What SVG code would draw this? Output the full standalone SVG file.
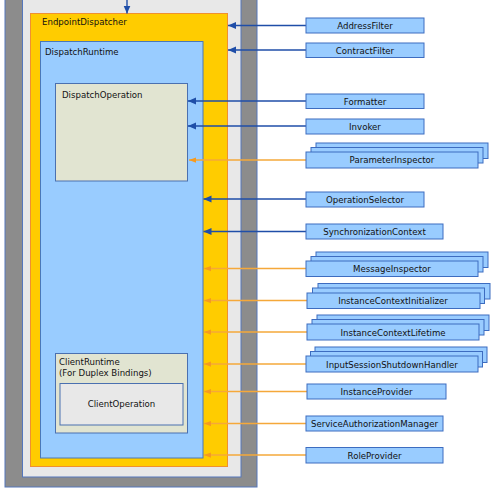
<svg xmlns="http://www.w3.org/2000/svg" width="502" height="495" viewBox="0 0 502 495">
<defs>
<style>
text{font-family:"DejaVu Sans","Liberation Sans",sans-serif;font-size:8.6px;fill:#111111}
.c{text-anchor:middle}
.box{fill:#99ccff;stroke:#3d6cc0;stroke-width:1}
.bl{stroke:#1f4ea8;stroke-width:1.4;fill:none}
.or{stroke:#f5a83a;stroke-width:1.4;fill:none}
</style>
<marker id="ab" viewBox="0 0 8 8" refX="8" refY="4" markerWidth="8" markerHeight="8" markerUnits="userSpaceOnUse" orient="auto"><path d="M0,0.5 L8,4 L0,7.5 Z" fill="#1f4ea8"/></marker>
<marker id="ao" viewBox="0 0 8 8" refX="8" refY="4" markerWidth="7" markerHeight="7" markerUnits="userSpaceOnUse" orient="auto"><path d="M0,1 L8,4 L0,7 Z" fill="#f59a20"/></marker>
</defs>
<rect width="502" height="495" fill="#ffffff"/>
<g id="host">
<rect x="5" y="-2" width="252" height="489" fill="#8c8c8c" stroke="#5577bb" stroke-width="1"/>
<rect x="22.5" y="-2" width="218.5" height="479" fill="#e8e8e8" stroke="#5577bb" stroke-width="1"/>
</g>
<g id="EndpointDispatcher">
<rect x="30.5" y="13.5" width="197" height="453" fill="#ffcc00" stroke="#f09030" stroke-width="1"/>
<text x="42" y="25">EndpointDispatcher</text>
</g>
<g id="DispatchRuntime">
<rect x="40.5" y="41.5" width="162.5" height="416.5" fill="#99ccff" stroke="#4a78b8" stroke-width="1"/>
<text x="45" y="55">DispatchRuntime</text>
</g>
<g id="DispatchOperation">
<rect x="55.5" y="83.5" width="132" height="97.5" fill="#e1e4d1" stroke="#4a70b0" stroke-width="1"/>
<text x="62" y="98">DispatchOperation</text>
</g>
<g id="ClientRuntime">
<rect x="55.5" y="353.5" width="132" height="79.5" fill="#e1e4d1" stroke="#4a70b0" stroke-width="1"/>
<text x="59" y="365">ClientRuntime</text>
<text x="59" y="376">(For Duplex Bindings)</text>
</g>
<g id="ClientOperation">
<rect x="60" y="383.5" width="123" height="41.5" fill="#e8e8e8" stroke="#4a70b0" stroke-width="1"/>
<text class="c" x="121.5" y="407">ClientOperation</text>
</g>
<g id="connectors">
<line class="bl" x1="127" y1="0" x2="127" y2="13.5" marker-end="url(#ab)"/>
<line class="bl" x1="306" y1="25.5" x2="228" y2="25.5" marker-end="url(#ab)"/>
<line class="bl" x1="306" y1="50" x2="228" y2="50" marker-end="url(#ab)"/>
<line class="bl" x1="306" y1="101" x2="188" y2="101" marker-end="url(#ab)"/>
<line class="bl" x1="306" y1="126" x2="188" y2="126" marker-end="url(#ab)"/>
<line class="or" x1="306" y1="160" x2="189" y2="160" marker-end="url(#ao)"/>
<line class="bl" x1="306" y1="199" x2="203.5" y2="199" marker-end="url(#ab)"/>
<line class="bl" x1="306" y1="231.5" x2="203.5" y2="231.5" marker-end="url(#ab)"/>
<line class="or" x1="306" y1="268.5" x2="204" y2="268.5" marker-end="url(#ao)"/>
<line class="or" x1="307" y1="300.5" x2="204" y2="300.5" marker-end="url(#ao)"/>
<line class="or" x1="307" y1="332" x2="204" y2="332" marker-end="url(#ao)"/>
<line class="or" x1="306" y1="364" x2="204" y2="364" marker-end="url(#ao)"/>
<line class="or" x1="307" y1="391.5" x2="204" y2="391.5" marker-end="url(#ao)"/>
<line class="or" x1="306" y1="423.5" x2="204" y2="423.5" marker-end="url(#ao)"/>
<line class="or" x1="306" y1="455" x2="204" y2="455" marker-end="url(#ao)"/>
</g>
<g id="AddressFilter"><rect class="box" x="306" y="18" width="118" height="15"/><text class="c" x="365" y="28.5">AddressFilter</text></g>
<g id="ContractFilter"><rect class="box" x="306" y="43" width="118" height="14.5"/><text class="c" x="365" y="53.5">ContractFilter</text></g>
<g id="Formatter"><rect class="box" x="306" y="94" width="118" height="14.5"/><text class="c" x="365" y="104.5">Formatter</text></g>
<g id="Invoker"><rect class="box" x="306" y="119" width="118" height="15"/><text class="c" x="365" y="129.5">Invoker</text></g>
<g id="ParameterInspector">
<rect class="box" x="316" y="143" width="172" height="15.5"/>
<rect class="box" x="311" y="147.5" width="172" height="15.5"/>
<rect class="box" x="306" y="152" width="172" height="16"/>
<text class="c" x="392" y="163">ParameterInspector</text>
</g>
<g id="OperationSelector"><rect class="box" x="306" y="192" width="118" height="15"/><text class="c" x="365" y="202.5">OperationSelector</text></g>
<g id="SynchronizationContext"><rect class="box" x="306" y="224" width="137" height="15"/><text class="c" x="374.5" y="234.5">SynchronizationContext</text></g>
<g id="MessageInspector">
<rect class="box" x="316" y="252" width="172" height="15.5"/>
<rect class="box" x="311" y="256.5" width="172" height="15.5"/>
<rect class="box" x="306" y="261" width="172" height="15.5"/>
<text class="c" x="392" y="272">MessageInspector</text>
</g>
<g id="InstanceContextInitializer">
<rect class="box" x="318" y="283.5" width="172" height="15.5"/>
<rect class="box" x="312.5" y="288" width="172" height="15.5"/>
<rect class="box" x="307" y="293" width="173" height="15.5"/>
<text class="c" x="393" y="304">InstanceContextInitializer</text>
</g>
<g id="InstanceContextLifetime">
<rect class="box" x="317" y="315" width="172" height="15.5"/>
<rect class="box" x="312" y="319.5" width="172" height="15.5"/>
<rect class="box" x="307" y="324" width="172" height="16"/>
<text class="c" x="393" y="335.5">InstanceContextLifetime</text>
</g>
<g id="InputSessionShutdownHandler">
<rect class="box" x="315" y="347" width="172" height="15.5"/>
<rect class="box" x="310.5" y="351.5" width="172" height="15.5"/>
<rect class="box" x="306" y="356" width="172" height="16"/>
<text class="c" x="392" y="367.5">InputSessionShutdownHandler</text>
</g>
<g id="InstanceProvider"><rect class="box" x="307" y="384" width="139" height="15"/><text class="c" x="376.5" y="394.5">InstanceProvider</text></g>
<g id="ServiceAuthorizationManager"><rect class="box" x="306" y="416" width="137" height="15"/><text class="c" x="374.5" y="426.5">ServiceAuthorizationManager</text></g>
<g id="RoleProvider"><rect class="box" x="306" y="447.5" width="137" height="15.5"/><text class="c" x="374.5" y="458.5">RoleProvider</text></g>
</svg>
